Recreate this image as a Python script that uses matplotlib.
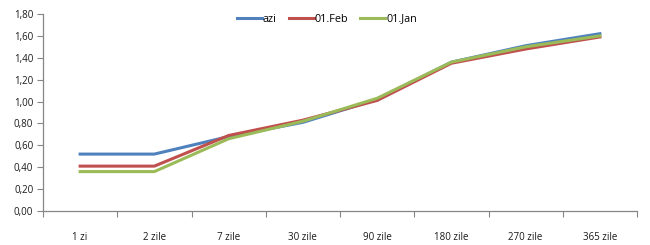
import matplotlib.pyplot as plt
import numpy as np

categorii = ['1 zi', '2 zile', '7 zile', '30 zile', '90 zile', '180 zile', '270 zile', '365 zile']
azi = [0.52, 0.52, 0.68, 0.81, 1.02, 1.36, 1.51, 1.62]
feb = [0.41, 0.41, 0.69, 0.83, 1.01, 1.35, 1.48, 1.59]
ian = [0.36, 0.36, 0.66, 0.82, 1.03, 1.36, 1.50, 1.60]
etichete = ['azi', '01.Feb', '01.Jan']

plt.rcParams['font.family'] = ['Open Sans', 'DejaVu Sans']

fig = plt.figure(figsize=(6.5, 2.45), dpi=100)
ax = fig.add_axes([43 / 650, 1 - 211 / 245, (637 - 43) / 650, (211 - 14) / 245])

x = np.arange(len(categorii))
ax.plot(x, azi, color='#4F81BD', lw=2.2, label=etichete[0])
ax.plot(x, feb, color='#C0504D', lw=2.2, label=etichete[1])
ax.plot(x, ian, color='#9BBB59', lw=2.2, label=etichete[2])

ax.set_xlim(-0.5, len(categorii) - 0.5)
ax.set_ylim(0, 1.8)
ax.set_yticks(np.arange(0, 1.81, 0.2))
ax.set_yticklabels([f'{v:.2f}'.replace('.', ',') for v in np.arange(0, 1.81, 0.2)])

# ticks on the category boundaries, labels in the middle
ax.set_xticks(np.arange(-0.5, len(categorii), 1))
ax.set_xticklabels([])
ax.set_xticks(x, minor=True)
ax.set_xticklabels(categorii, minor=True)
ax.tick_params(axis='x', which='minor', length=0, pad=15)
ax.tick_params(axis='x', which='major', length=4, color='#868686')
ax.tick_params(axis='y', length=4, color='#868686', pad=3)
ax.tick_params(which='both', labelsize=7, labelcolor='#1a1a1a')

for s in ['top', 'right']:
    ax.spines[s].set_visible(False)
for s in ['left', 'bottom']:
    ax.spines[s].set_color('#868686')
    ax.spines[s].set_linewidth(0.9)

fig.legend(loc='center', bbox_to_anchor=(327 / 650, 1 - 19 / 245), ncol=3, frameon=False,
           fontsize=7.8, handlelength=2.3, handletextpad=0.1, columnspacing=1.1)

fig.savefig('out.png', dpi=100)
